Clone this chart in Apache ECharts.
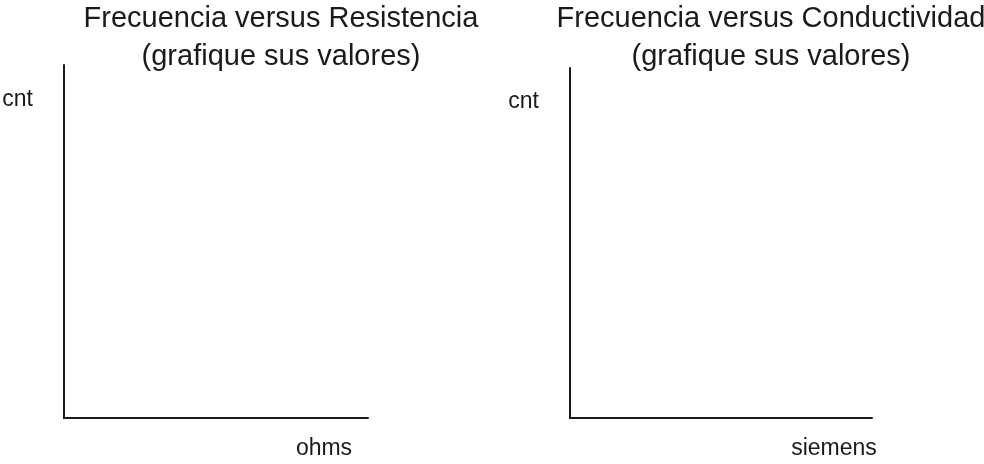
<!DOCTYPE html>
<html>
<head>
<meta charset="utf-8">
<style>
html, body { margin: 0; padding: 0; background: #fff; }
#chart-panel { position: absolute; left: 0; top: 0; width: 984px; height: 464px; }
</style>
<script src="https://cdn.jsdelivr.net/npm/echarts@6/dist/echarts.min.js"></script>
</head>
<body>
<div id="chart-panel"></div>
<script type="text/javascript">
// plantilla vacia: el alumno grafica sus valores
var titulos = ['Frecuencia versus Resistencia\n(grafique sus valores)',
               'Frecuencia versus Conductividad\n(grafique sus valores)'];
var nombresX = ['ohms', 'siemens'];
var nombresY = ['cnt', 'cnt'];
var resistencia = [];    // [ohms, cnt]
var conductividad = [];  // [siemens, cnt]

var fuente = 'Liberation Sans, Arial, sans-serif';
var tinta = '#1a1a1a';

var myChart = echarts.init(document.getElementById('chart-panel'));

function eje(nombre, extra) {
    var o = {
        type: 'value',
        min: 0,
        max: 1,
        name: nombre,
        axisLine: { show: true, onZero: false, lineStyle: { color: tinta, width: 2 } },
        axisTick: { show: false },
        axisLabel: { show: false },
        splitLine: { show: false }
    };
    for (var k in extra) o[k] = extra[k];
    return o;
}

var option = {
    animation: false,
    backgroundColor: '#fff',
    title: [
        { text: titulos[0], left: 276, top: -5, textAlign: 'center',
          textStyle: { fontFamily: fuente, fontSize: 29, fontWeight: 'normal', color: tinta, lineHeight: 38 } },
        { text: titulos[1], left: 766, top: -5, textAlign: 'center',
          textStyle: { fontFamily: fuente, fontSize: 29, fontWeight: 'normal', color: tinta, lineHeight: 38 } }
    ],
    grid: [
        { left: 64, top: 65, width: 304, height: 353 },
        { left: 570, top: 68, width: 302, height: 350 }
    ],
    xAxis: [
        eje(nombresX[0], { gridIndex: 0, nameLocation: 'end', nameGap: -44,
            nameTextStyle: { fontFamily: fuente, fontSize: 23, color: tinta, align: 'center', verticalAlign: 'top', padding: [19, 0, 0, 0] } }),
        eje(nombresX[1], { gridIndex: 1, nameLocation: 'end', nameGap: -38,
            nameTextStyle: { fontFamily: fuente, fontSize: 23, color: tinta, align: 'center', verticalAlign: 'top', padding: [19, 0, 0, 0] } })
    ],
    yAxis: [
        eje(nombresY[0], { gridIndex: 0, nameLocation: 'end', nameGap: -35, nameRotate: 0,
            nameTextStyle: { fontFamily: fuente, fontSize: 23, color: tinta, align: 'right', verticalAlign: 'middle', padding: [0, 31, 0, 0] } }),
        eje(nombresY[1], { gridIndex: 1, nameLocation: 'end', nameGap: -34, nameRotate: 0,
            nameTextStyle: { fontFamily: fuente, fontSize: 23, color: tinta, align: 'right', verticalAlign: 'middle', padding: [0, 31, 0, 0] } })
    ],
    series: [
        { type: 'scatter', xAxisIndex: 0, yAxisIndex: 0, data: resistencia },
        { type: 'scatter', xAxisIndex: 1, yAxisIndex: 1, data: conductividad }
    ]
};

myChart.setOption(option);
</script>
</body>
</html>
